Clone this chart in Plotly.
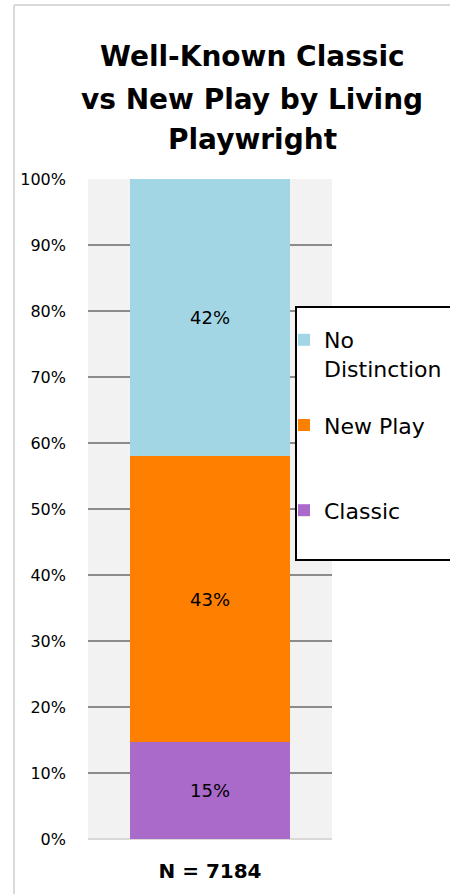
import plotly.graph_objects as go

# data
category = ["N = 7184"]
series = ["Classic<br>&nbsp;", "New Play<br>&nbsp;", "No<br>Distinction"]
shares = [14.7, 43.3, 42.0]
labels = ["15%", "43%", "42%"]
colors = ["#a96ac9", "#ff7f00", "#a3d6e4"]
legend_rank = [3, 2, 1]

tick_vals = [0, 10, 20, 30, 40, 50, 60, 70, 80, 90, 100]
tick_text = [f"{v}%" for v in tick_vals]

title_lines = ["Well-Known Classic", "vs New Play by Living", "Playwright"]
title_y = [56, 99, 139]

W, H = 450, 894
L, R, T, B = 88, 118, 179, 55
pw, ph = W - L - R, H - T - B


def px_x(x):
    return (x - L) / pw


def px_y(y):
    return (H - B - y) / ph


fig = go.Figure()
for name, val, lab, col, rk in zip(series, shares, labels, colors, legend_rank):
    fig.add_trace(go.Bar(
        x=category, y=[val], name=name, text=[lab],
        textposition="inside", insidetextanchor="middle",
        textfont=dict(size=18, color="black", family="DejaVu Sans"),
        marker=dict(color=col, line=dict(width=0)),
        width=0.656, legendgroup=name, legendrank=rk,
    ))

# title, one annotation per line so the spacing matches
for line, yy in zip(title_lines, title_y):
    fig.add_annotation(
        text=line, xref="paper", yref="paper", x=px_x(252), y=px_y(yy),
        xanchor="center", yanchor="middle", showarrow=False,
        font=dict(size=28, family="DejaVu Sans", weight="bold", color="black"),
    )

# outer chart border + legend frame
fig.add_shape(type="line", xref="paper", yref="paper",
              x0=px_x(14), x1=px_x(14), y0=px_y(5), y1=px_y(900),
              line=dict(color="#d9d9d9", width=2))
fig.add_shape(type="line", xref="paper", yref="paper",
              x0=px_x(14), x1=px_x(460), y0=px_y(5), y1=px_y(5),
              line=dict(color="#d9d9d9", width=2))
fig.add_shape(type="rect", xref="paper", yref="paper", layer="above",
              x0=px_x(296), x1=px_x(470), y0=px_y(560), y1=px_y(307),
              line=dict(color="black", width=2), fillcolor="white")

fig.update_layout(
    width=W, height=H,
    margin=dict(l=L, r=R, t=T, b=B, autoexpand=False),
    paper_bgcolor="white", plot_bgcolor="#f2f2f2",
    barmode="stack", bargap=0,
    font=dict(family="DejaVu Sans", color="black"),
    legend=dict(
        x=px_x(284), xanchor="left", y=px_y(319), yanchor="top",
        traceorder="grouped", tracegroupgap=25, valign="top",
        font=dict(size=22, family="DejaVu Sans"),
        bgcolor="rgba(0,0,0,0)", borderwidth=0,
    ),
    showlegend=True,
)

fig.update_xaxes(
    showgrid=False, showline=False, ticks="",
    tickfont=dict(size=20, family="DejaVu Sans", weight="bold"),
    ticklabelstandoff=18,
)
fig.update_yaxes(
    range=[0, 100], tickvals=tick_vals, ticktext=tick_text,
    showgrid=True, gridcolor="#8c8c8c", gridwidth=2,
    zeroline=True, zerolinecolor="#d9d9d9", zerolinewidth=2,
    tickfont=dict(size=16, family="DejaVu Sans"),
    ticklabelstandoff=21,
)

fig.write_html("out.html", config={"displayModeBar": False},
               post_script="document.body.style.margin='0';")
